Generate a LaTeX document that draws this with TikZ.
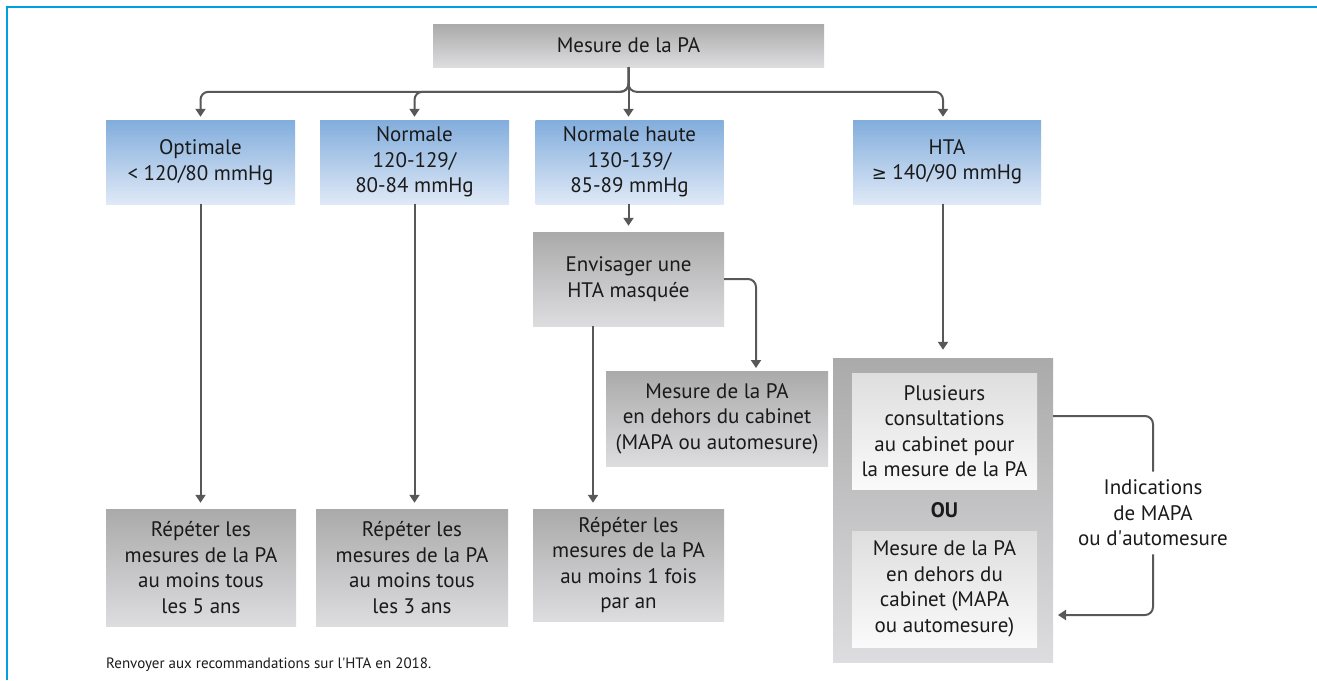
\documentclass[tikz,border=0pt]{standalone}
\usepackage{fontspec}
\setmainfont{PT Sans}
\newfontfamily\symbolfont{DejaVu Sans}
\usetikzlibrary{arrows.meta,calc}

\definecolor{frameblue}{RGB}{0,158,226}
\definecolor{linegray}{RGB}{88,88,88}
\definecolor{inkgray}{RGB}{26,26,26}
\definecolor{graytop}{RGB}{170,170,170}
\definecolor{graybot}{RGB}{221,221,224}
\definecolor{bluetop}{RGB}{130,173,220}
\definecolor{bluebot}{RGB}{223,233,247}
\definecolor{paletop}{RGB}{222,222,222}
\definecolor{palebot}{RGB}{250,250,250}

\tikzset{
  box/.style={inner sep=0pt, align=center, text=inkgray,
    font=\fontsize{21}{25.5}\selectfont},
  graybox/.style={box, top color=graytop, bottom color=graybot},
  bluebox/.style={box, top color=bluetop, bottom color=bluebot},
  palebox/.style={box, top color=paletop, bottom color=palebot},
  conn/.style={draw=linegray, line width=2pt, rounded corners=8pt},
  arr/.style={conn, -{Triangle[width=10pt,length=8pt]}, shorten >=3pt},
}

\begin{document}
\begin{tikzpicture}[x=1pt, y=-1pt]
  \useasboundingbox (0,0) rectangle (1317,680);

  % frame
  \draw[frameblue, line width=2.8pt] (1317,7) -- (7,7) -- (7,680);

  % root
  \node[graybox, minimum width=391pt, minimum height=43pt] (top) at (628.5,45.5) {Mesure de la PA};

  % categories
  \node[bluebox, minimum width=189pt, minimum height=84pt] (opt) at (200.5,162) {Optimale\\< 120/80 mmHg};
  \node[bluebox, minimum width=189pt, minimum height=84pt] (nor) at (414.5,162) {Normale\\120-129/\\80-84 mmHg};
  \node[bluebox, minimum width=188pt, minimum height=84pt] (nh) at (629.5,162) {Normale haute\\130-139/\\85-89 mmHg};
  \node[bluebox, minimum width=188pt, minimum height=84pt] (hta) at (947,162) {HTA\\{\symbolfont\fontsize{18}{25.5}\selectfont ≥} 140/90 mmHg};

  % follow-up boxes
  \node[graybox, minimum width=191pt, minimum height=94pt] (env) at (628.5,279) {Envisager une\\HTA masquée};
  \node[graybox, minimum width=222pt, minimum height=95pt] (out) at (717,418.5) {Mesure de la PA\\en dehors du cabinet\\(MAPA ou automesure)};
  \node[graybox, minimum width=190pt, minimum height=117pt] (r1) at (201,567.5) {Répéter les\\mesures de la PA\\au moins tous\\les 5 ans};
  \node[graybox, minimum width=192pt, minimum height=117pt] (r2) at (412,567.5) {Répéter les\\mesures de la PA\\au moins tous\\les 3 ans};
  \node[graybox, minimum width=191pt, minimum height=112pt] (r3) at (628.5,565) {Répéter les\\mesures de la PA\\au moins 1 fois\\par an};

  % HTA group
  \node[graybox, minimum width=220pt, minimum height=304pt] (grp) at (943,510) {};
  \node[palebox, minimum width=185pt, minimum height=116pt] (in1) at (944.5,431) {Plusieurs\\consultations\\au cabinet pour\\la mesure de la PA};
  \node[box, font=\bfseries\fontsize{21}{25.5}\selectfont] (ou) at (944.5,510) {OU};
  \node[palebox, minimum width=185pt, minimum height=116pt] (in2) at (944.5,589) {Mesure de la PA\\en dehors du\\cabinet (MAPA\\ou automesure)};

  % loop label
  \node[box, inner xsep=4pt, inner ysep=8pt] (lab) at (1153,513) {Indications\\de MAPA\\ou d\textquotesingle automesure};

  % footnote
  \node[anchor=base west, inner sep=0pt, text=inkgray, font=\fontsize{15}{18}\selectfont] (note) at (106,668)
    {Renvoyer aux recommandations sur l\textquotesingle HTA en 2018.};

  % helper points
  \coordinate (outin) at (756,371);
  \coordinate (lane) at (593,0);
  \coordinate (loopa) at (1153,416);
  \coordinate (loopb) at (1053,615);

  % root branching
  \draw[arr] (top.south) |- ($(opt.north)+(0,-28)$) -- (opt.north);
  \draw[arr] (top.south) |- ($(nor.north)+(0,-28)$) -- (nor.north);
  \draw[arr] (top.south) |- ($(grp.north |- hta.north)+(0,-28)$) -- (grp.north |- hta.north);
  \draw[arr] (top.south) -- (top.south |- nh.north);

  % downstream
  \draw[arr, shorten >=6pt] (top.south |- nh.south) -- (top.south |- env.north);
  \draw[arr] (env.east) -| (outin);
  \draw[arr, shorten >=6pt] (env.south -| lane) -- (r3.north -| lane);
  \draw[arr, shorten >=6pt] (opt.south) -- (opt.south |- r1.north);
  \draw[arr, shorten >=6pt] (nor.south) -- (nor.south |- r2.north);
  \draw[arr, shorten >=8pt] (grp.north |- hta.south) -- (grp.north);

  % indications loop
  \draw[conn] (grp.east |- loopa) -| (lab.north);
  \draw[arr, shorten >=5pt] (lab.south) |- (loopb);
\end{tikzpicture}
\end{document}
